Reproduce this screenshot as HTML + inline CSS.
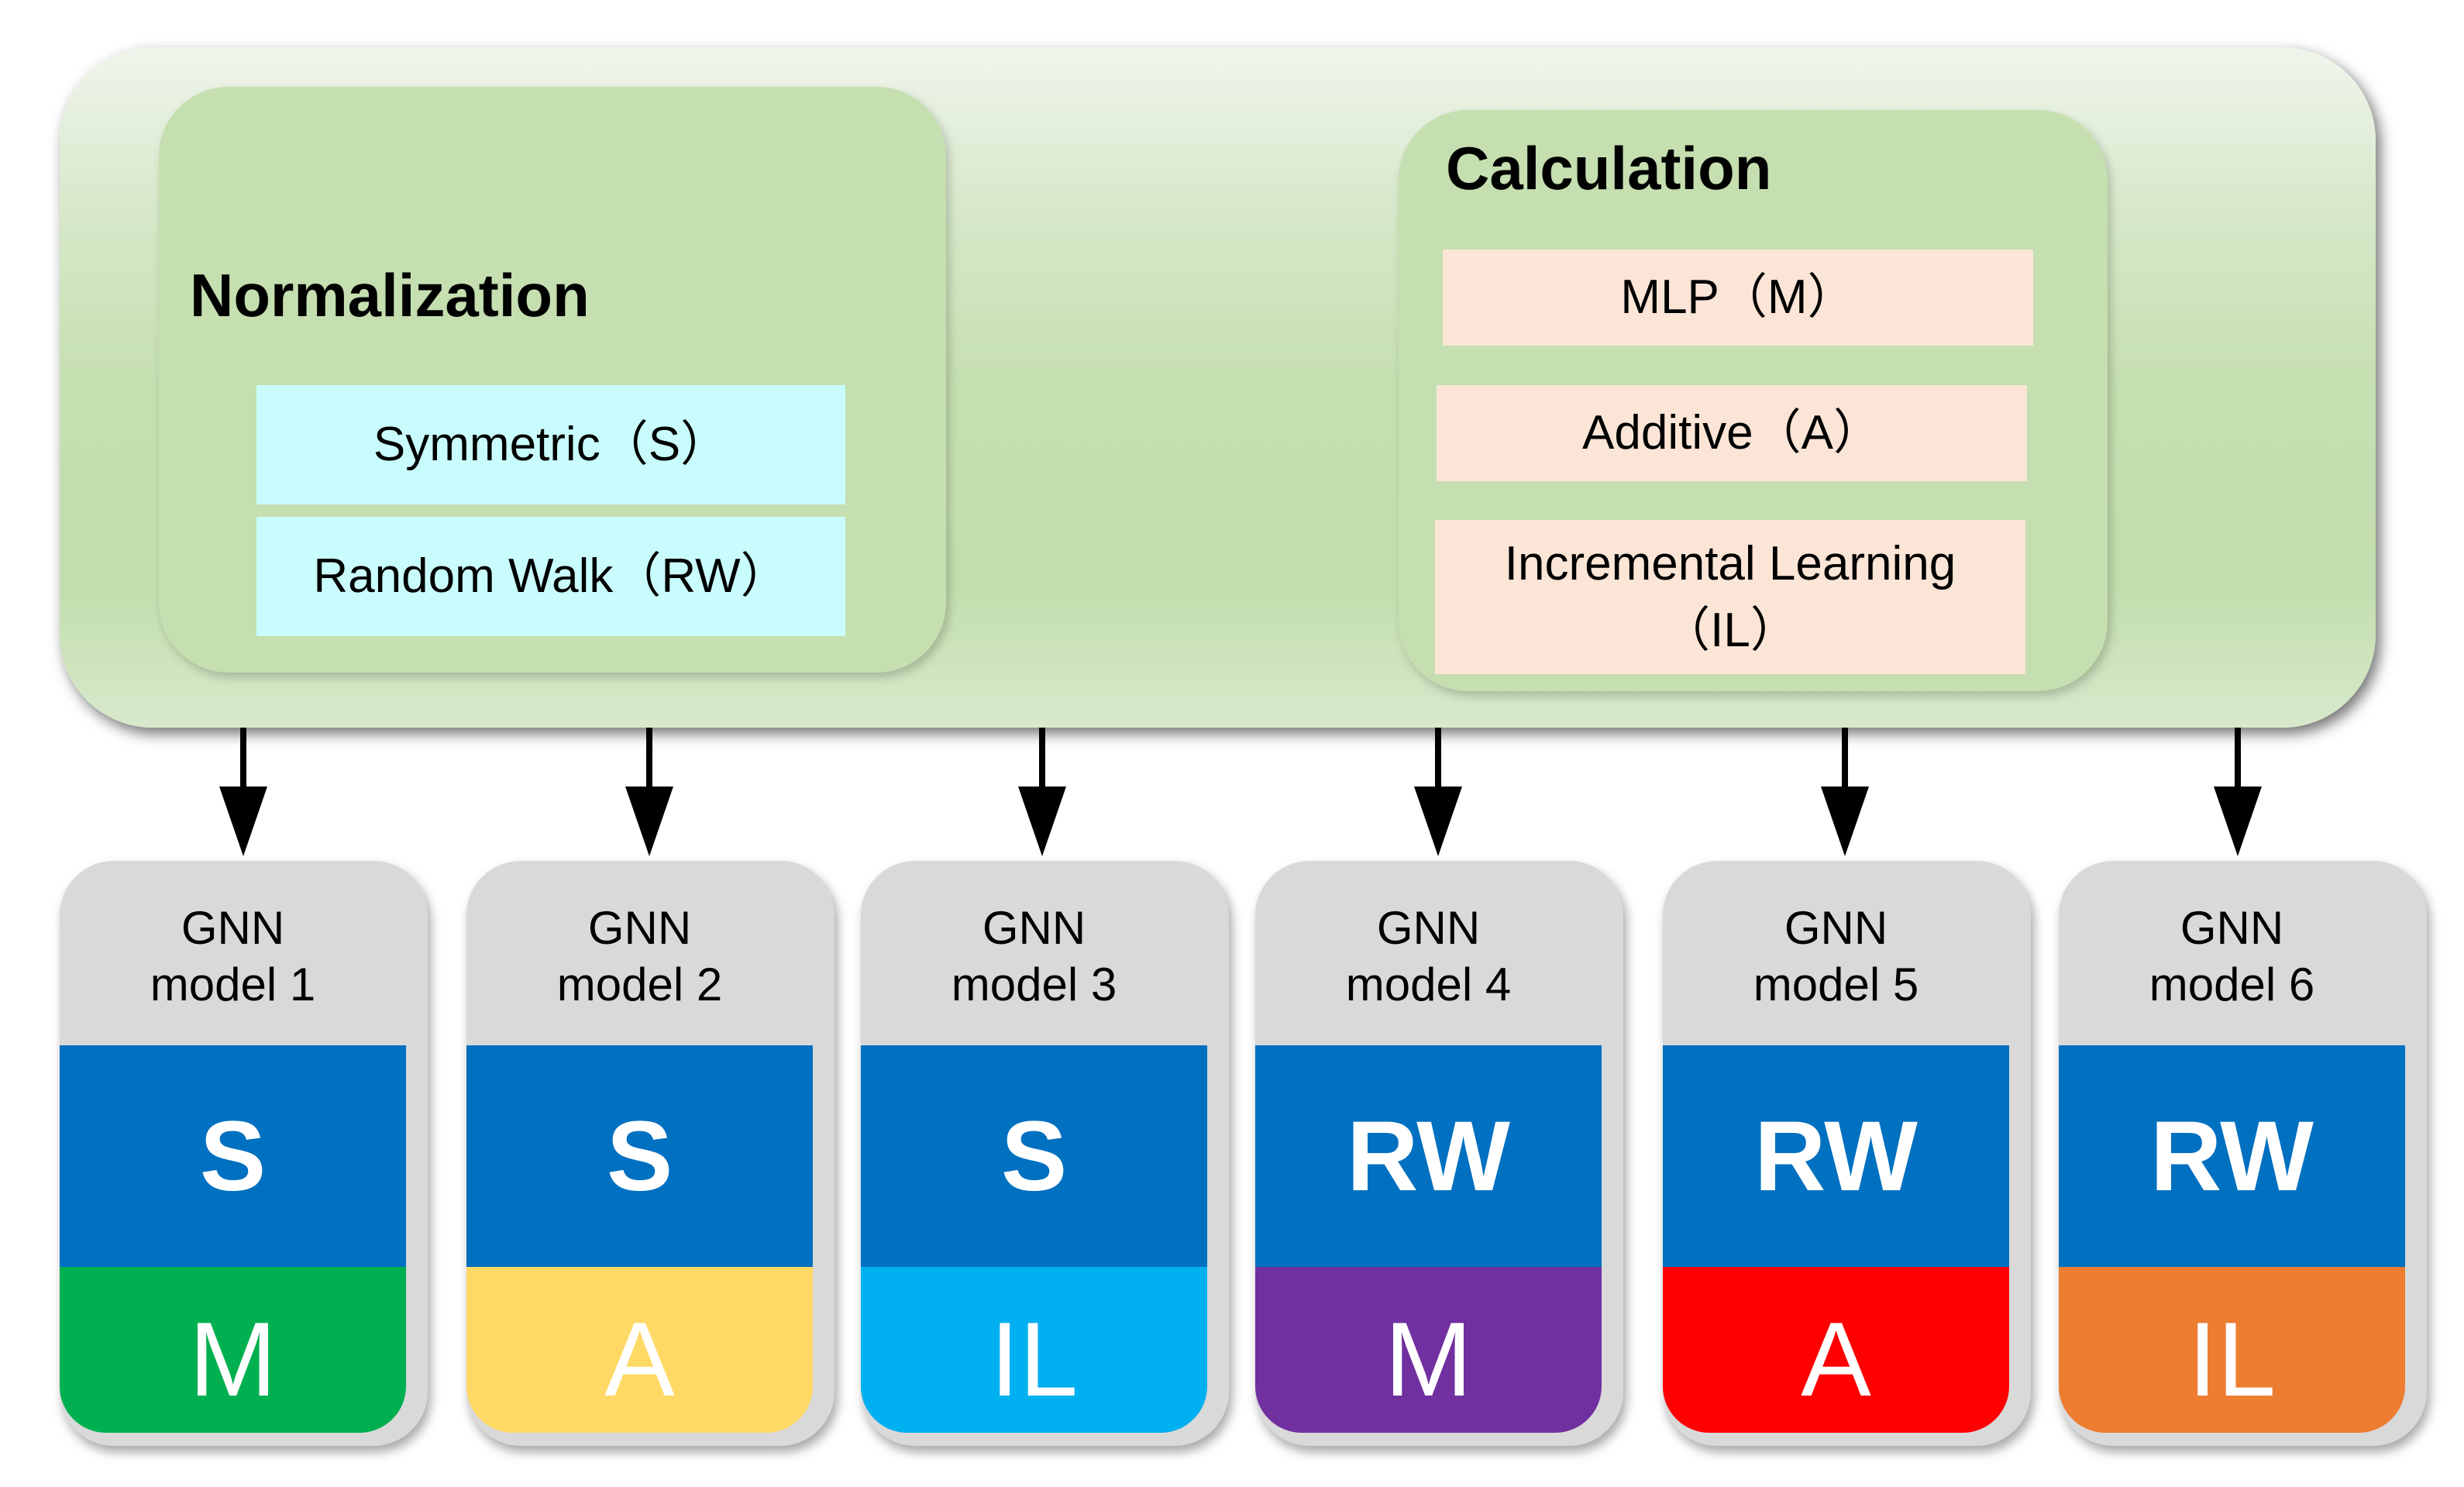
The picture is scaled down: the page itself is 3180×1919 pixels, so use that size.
<!DOCTYPE html>
<html><head><meta charset="utf-8"><style>
body{margin:0;width:3180px;height:1919px;background:#fff;position:relative;overflow:hidden;font-family:"Liberation Sans","Noto Sans CJK SC",sans-serif;}
div{position:absolute;box-sizing:border-box;}
.outer{left:77px;top:61px;width:2989px;height:878px;border-radius:120px;background:linear-gradient(#f0f5ec 0%,#d6e8c8 25%,#c5dfb0 50%,#c3deae 80%,#d8e9cc 100%);box-shadow:6px 8px 18px rgba(0,0,0,.55);}
.inner{background:#c5dfb0;border-radius:90px;box-shadow:4px 6px 12px rgba(0,0,0,.2);}
.title{font-weight:bold;font-size:78px;color:#000;}
.item{display:flex;align-items:center;justify-content:center;text-align:center;font-size:62px;color:#000;line-height:86px;}
.cyan{background:#c9fcfc;}
.peach{background:#fbe5d6;}
.arrow{width:8px;background:#000;}
.head{width:0;height:0;border-left:31px solid transparent;border-right:31px solid transparent;border-top:90px solid #000;}
.model{top:1111px;width:475px;height:755px;background:#d9d9d9;border-radius:70px;box-shadow:4px 8px 14px rgba(0,0,0,.35);overflow:hidden;}
.gnn{left:0;width:447px;top:50px;text-align:center;font-size:60px;line-height:73px;color:#000;}
.band{left:0;width:447px;top:238px;height:286px;background:#0070c0;color:#fff;font-weight:bold;font-size:128px;display:flex;align-items:center;justify-content:center;}
.low{left:0;width:447px;top:524px;height:214px;border-radius:0 0 60px 60px;color:#fff;font-size:136px;display:flex;align-items:center;justify-content:center;padding-top:24px;}
</style></head><body>
<div class="outer"></div>
<div class="inner" style="left:205px;top:112px;width:1016px;height:756px;"></div>
<div class="title" style="left:245px;top:336px;">Normalization</div>
<div class="item cyan" style="left:331px;top:497px;width:760px;height:154px;">Symmetric（S）</div>
<div class="item cyan" style="left:331px;top:667px;width:760px;height:154px;">Random Walk（RW）</div>

<div class="inner" style="left:1805px;top:142px;width:915px;height:750px;"></div>
<div class="title" style="left:1866px;top:172px;">Calculation</div>
<div class="item peach" style="left:1862px;top:322px;width:762px;height:124px;">MLP（M）</div>
<div class="item peach" style="left:1854px;top:497px;width:762px;height:124px;">Additive（A）</div>
<div class="item peach" style="left:1852px;top:671px;width:762px;height:199px;">Incremental Learning<br>（IL）</div>

<div class="arrow" style="left:310px;top:939px;height:80px;"></div><div class="head" style="left:283px;top:1015px;"></div>
<div class="arrow" style="left:834px;top:939px;height:80px;"></div><div class="head" style="left:807px;top:1015px;"></div>
<div class="arrow" style="left:1341px;top:939px;height:80px;"></div><div class="head" style="left:1314px;top:1015px;"></div>
<div class="arrow" style="left:1852px;top:939px;height:80px;"></div><div class="head" style="left:1825px;top:1015px;"></div>
<div class="arrow" style="left:2377px;top:939px;height:80px;"></div><div class="head" style="left:2350px;top:1015px;"></div>
<div class="arrow" style="left:2884px;top:939px;height:80px;"></div><div class="head" style="left:2857px;top:1015px;"></div>

<div class="model" style="left:77px;"><div class="gnn">GNN<br>model 1</div><div class="band">S</div><div class="low" style="background:#00b050;">M</div></div>
<div class="model" style="left:602px;"><div class="gnn">GNN<br>model 2</div><div class="band">S</div><div class="low" style="background:#ffd966;">A</div></div>
<div class="model" style="left:1111px;"><div class="gnn">GNN<br>model 3</div><div class="band">S</div><div class="low" style="background:#00b0f0;">IL</div></div>
<div class="model" style="left:1620px;"><div class="gnn">GNN<br>model 4</div><div class="band">RW</div><div class="low" style="background:#7030a0;">M</div></div>
<div class="model" style="left:2146px;"><div class="gnn">GNN<br>model 5</div><div class="band">RW</div><div class="low" style="background:#ff0000;">A</div></div>
<div class="model" style="left:2657px;"><div class="gnn">GNN<br>model 6</div><div class="band">RW</div><div class="low" style="background:#ed7d31;">IL</div></div>
</body></html>
